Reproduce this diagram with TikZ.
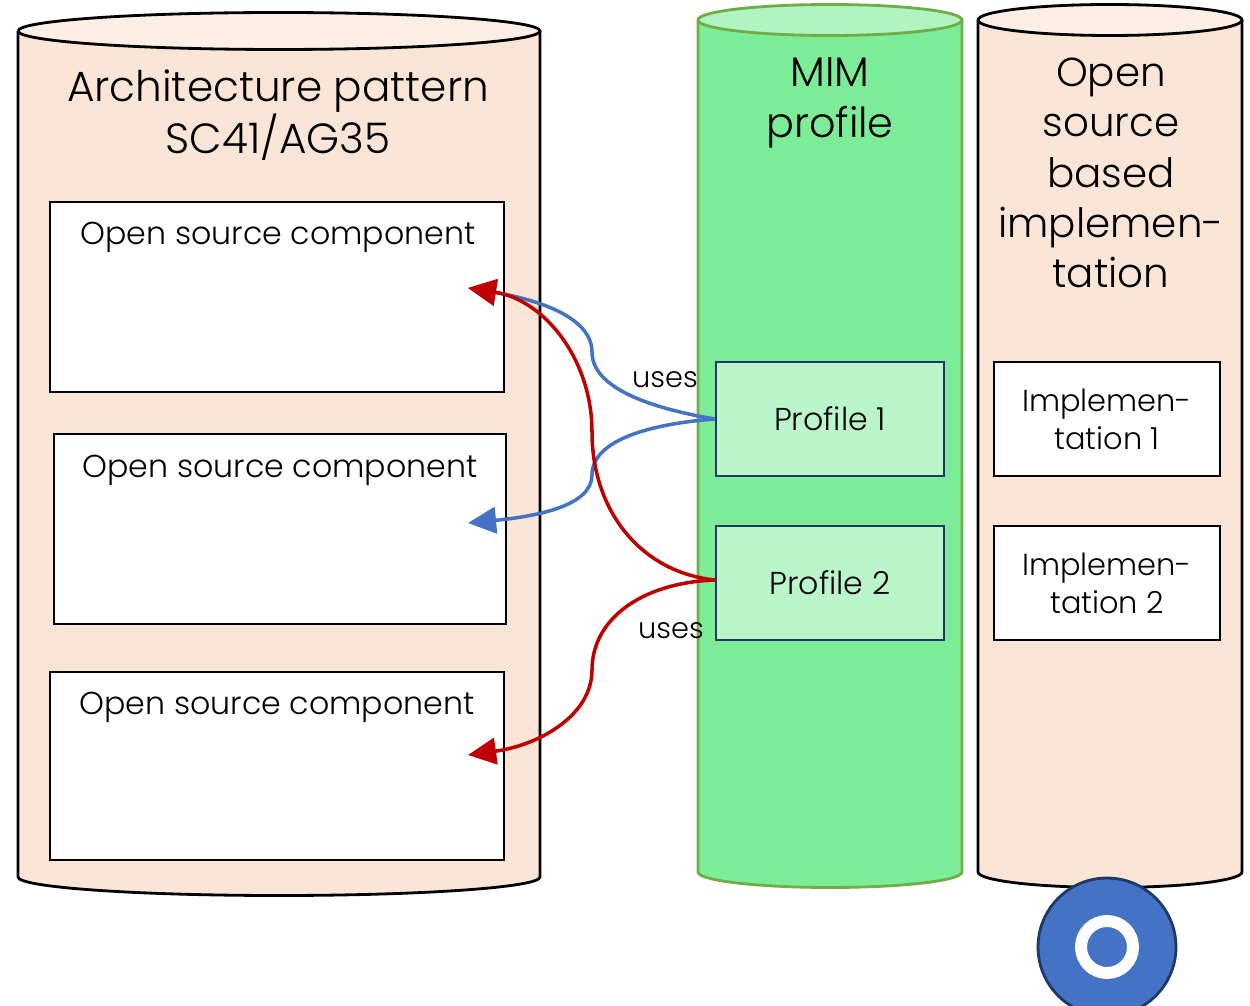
\documentclass[tikz,border=0pt]{standalone}
\usepackage{fontspec}
\setmainfont{Poppins Light}
\usetikzlibrary{arrows.meta}
\definecolor{drumbody}{HTML}{FBE5D6}
\definecolor{drumtop}{HTML}{FDEFE6}
\definecolor{mimbody}{HTML}{7DEC98}
\definecolor{mimtop}{HTML}{B1F4C2}
\definecolor{mimedge}{HTML}{70AD47}
\definecolor{profilefill}{HTML}{BBF6CB}
\definecolor{navyedge}{HTML}{203864}
\definecolor{usesblue}{HTML}{4472C4}
\definecolor{usesred}{HTML}{C00000}
\tikzset{
  titletext/.style={align=center,font=\fontsize{#1}{28.6}\selectfont},
  titletext/.default=23.5,
  boxtext/.style={align=center,font=\fontsize{#1}{21.5}\selectfont},
  boxtext/.default=18,
  partbox/.style={draw=black,fill=white,line width=1.6pt,minimum width=#1,inner sep=0pt},
  profilebox/.style={draw=navyedge,fill=profilefill,line width=1.6pt,minimum width=4.56cm,minimum height=2.28cm,inner sep=0pt},
  implbox/.style={draw=black,fill=white,line width=1.6pt,minimum width=4.52cm,minimum height=2.28cm,inner sep=0pt},
  usesline/.style={line width=2pt,-{Triangle[length=16pt,width=15pt]}}
}
\begin{document}
\begin{tikzpicture}[x=0.02cm,y=-0.02cm]
  \useasboundingbox (0,0) rectangle (1250,1006);
  % 三个圆柱: 左, 右, 上, 下, 半高, 颜色
  \foreach \xa/\xb/\ya/\yb/\ry/\cbody/\ctop/\cedge in
    {18/540/31/877/18.5/drumbody/drumtop/black,
     698/962/20/872/15.5/mimbody/mimtop/mimedge,
     978/1242/20/872/15.5/drumbody/drumtop/black}
  {
    \pgfmathsetmacro{\rx}{(\xb-\xa)/2}
    \draw[fill=\cbody,draw=\cedge,line width=1.6pt,line join=round]
      (\xa,\ya) -- (\xa,\yb) arc[start angle=180,delta angle=-180,x radius=\rx,y radius=\ry]
      -- (\xb,\ya);
    \draw[fill=\ctop,draw=\cedge,line width=1.6pt]
      (\xa,\ya) arc[start angle=180,delta angle=360,x radius=\rx,y radius=\ry];
  }
  \node[titletext=24] (archtitle) at (278,115) {Architecture pattern\\SC41/AG35};
  \node[titletext] (mimtitle) at (830,103) {MIM\\profile};
  \node[titletext=23] (impltitle) at (1111,173) {Open\\source\\based\\implemen-\\tation};
  % 开源组件
  \foreach \n/\x/\y/\w/\h in {1/277/297/9.08cm/3.8cm,2/280/529/9.04cm/3.8cm,3/277/766/9.08cm/3.76cm}
    \node[partbox=\w,minimum height=\h] (part\n) at (\x,\y) {};
  \foreach \n/\x/\y in {1/278/237,2/280/470,3/277/707}
    \node[boxtext] (parttext\n) at (\x,\y) {Open source component};
  \node[profilebox,boxtext] (profile1) at (830,419) {Profile 1};
  \node[profilebox,boxtext] (profile2) at (830,583) {Profile 2};
  \node[implbox,boxtext=17.3] (impl1) at (1107,419) {Implemen-\\tation 1};
  \node[implbox,boxtext=17.3] (impl2) at (1107,583) {Implemen-\\tation 2};
  \node[boxtext=16.4] (uses1) at (665,380) {uses};
  \node[boxtext=16.4] (uses2) at (671,631) {uses};
  \coordinate (tip1) at (468,288);
  \coordinate (tip2) at (468,523);
  \coordinate (tip3) at (468,755);
  % 箭头
  \draw[usesline,usesblue] (profile1.west) .. controls (650,408) and (592,388) .. (592,352)
    .. controls (592,318) and (540,300) .. (tip1);
  \draw[usesline,usesblue] (profile1.west) .. controls (650,424) and (592,440) .. (592,475)
    .. controls (592,505) and (540,516) .. (tip2);
  \draw[usesline,usesred] (profile2.west|-0,580) .. controls (640,572) and (592,510) .. (592,432)
    .. controls (592,360) and (545,300) .. (tip1);
  \draw[usesline,usesred] (profile2.west|-0,580) .. controls (640,583) and (592,620) .. (592,670)
    .. controls (592,715) and (540,745) .. (tip3);
  % 圆形标记
  \node[circle,draw=navyedge,fill=usesblue,line width=1.6pt,minimum size=2.76cm,inner sep=0pt] (marker) at (1107,947) {};
  \node[circle,draw=white,line width=6.8pt,minimum size=1.04cm,inner sep=0pt] (markerring) at (marker.center) {};
\end{tikzpicture}
\end{document}
